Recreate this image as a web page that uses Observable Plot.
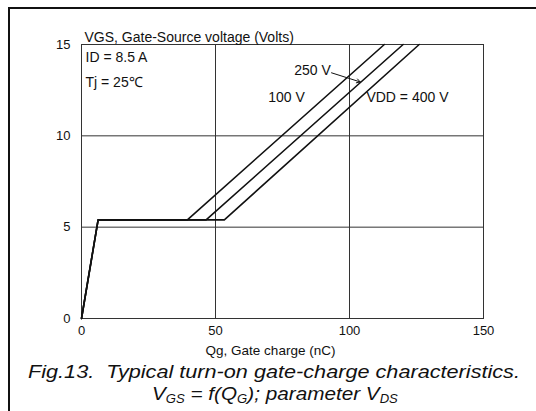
<!DOCTYPE html>
<html>
<head>
<meta charset="utf-8">
<script src="https://cdn.jsdelivr.net/npm/d3@7"></script>
<script src="https://cdn.jsdelivr.net/npm/@observablehq/plot@0.6"></script>
<style>
  html, body { margin: 0; padding: 0; background: #fff; }
  #wrap { position: relative; width: 536px; height: 411px; overflow: hidden; font-family: "Liberation Sans", Arial, sans-serif; }
  #border { position: absolute; left: 8px; top: 7px; right: -4px; bottom: -4px; border-top: 2px solid #111; border-left: 2px solid #111; }
  #chart { position: absolute; left: 0; top: 0; }
  .cap { position: absolute; font-style: italic; font-size: 19px; white-space: pre; color: #111; line-height: 20px; transform-origin: 0 50%; }
  .cap sub { font-size: 12px; vertical-align: -3px; }
</style>
</head>
<body>
<div id="wrap">
  <div id="border"></div>
  <div id="chart"></div>
  <div class="cap" id="cap1" style="left:28px; top:362px; transform: scaleX(1.14);"></div>
  <div class="cap" id="cap2" style="left:152px; top:384px; transform: scaleX(1.09);"></div>
</div>
<script>
// ---- data ----
const xTicks = [0, 50, 100, 150];
const yTicks = [0, 5, 10, 15];
const xGrid = [50, 100];
const yGrid = [5, 10];

const seriesNames = ["100 V", "250 V", "400 V"];
const qg100 = [0, 6.2, 39.5, 113];
const vgs100 = [0, 5.4, 5.4, 15];
const qg250 = [0, 6.2, 46.5, 120];
const vgs250 = [0, 5.4, 5.4, 15];
const qg400 = [0, 6.2, 53.3, 126];
const vgs400 = [0, 5.4, 5.4, 15];

const yTitle = "VGS, Gate-Source voltage (Volts)";
const xTitle = "Qg, Gate charge (nC)";
const condLine1 = "ID = 8.5 A";
const condLine2 = "Tj = 25\u2103";
const endLabels = [
  {text: "250 V", x: 93, y: 13.6},
  {text: "100 V", x: 83.3, y: 12.1}
];
const startLabels = [
  {text: "VDD = 400 V", x: 106.3, y: 12.1}
];
const arrowSpec = [{x1: 93.3, y1: 13.45, x2: 104, y2: 12.95}];
const caption1 = "Fig.13.  Typical turn-on gate-charge characteristics.";

// ---- build table ----
const allQ = [qg100, qg250, qg400];
const allV = [vgs100, vgs250, vgs400];
const rows = [];
seriesNames.forEach((s, i) => allQ[i].forEach((q, j) => rows.push({series: s, q, v: allV[i][j]})));

const ink = "#111";
const plot = Plot.plot({
  width: 536,
  height: 360,
  marginTop: 44,
  marginBottom: 42,
  marginLeft: 81,
  marginRight: 53,
  style: {fontFamily: "'Liberation Sans', Arial, sans-serif", fontSize: "13px", color: ink, background: "transparent", overflow: "visible"},
  x: {domain: [0, 150]},
  y: {domain: [0, 15]},
  marks: [
    Plot.ruleX(xGrid, {stroke: "#333", strokeWidth: 1}),
    Plot.ruleY(yGrid, {stroke: "#333", strokeWidth: 1}),
    Plot.frame({stroke: "#333", strokeWidth: 1}),
    Plot.axisX({ticks: xTicks, tickSize: 0, tickPadding: 7, label: null, fontSize: 13}),
    Plot.axisY({ticks: yTicks, tickSize: 0, tickPadding: 11, label: null, fontSize: 13}),
    Plot.line(rows, {x: "q", y: "v", z: "series", stroke: ink, strokeWidth: 1.6, curve: "linear"}),
    Plot.text([yTitle], {text: d => d, frameAnchor: "top-left", textAnchor: "start", dx: 3, dy: -12, fontSize: 14}),
    Plot.text([xTitle], {text: d => d, frameAnchor: "bottom", dx: -12, dy: 36, fontSize: 13.5}),
    Plot.text([condLine1], {text: d => d, frameAnchor: "top-left", textAnchor: "start", dx: 4, dy: 8, fontSize: 14}),
    Plot.text([condLine2], {text: d => d, frameAnchor: "top-left", textAnchor: "start", dx: 4, dy: 33, fontSize: 14}),
    Plot.text(endLabels, {x: "x", y: "y", text: "text", textAnchor: "end", fontSize: 14}),
    Plot.text(startLabels, {x: "x", y: "y", text: "text", textAnchor: "start", fontSize: 14}),
    Plot.arrow(arrowSpec, {x1: "x1", y1: "y1", x2: "x2", y2: "y2", stroke: ink, strokeWidth: 1, headLength: 6, bend: 0})
  ]
});
document.getElementById("chart").appendChild(plot);
document.getElementById("cap1").textContent = caption1;
document.getElementById("cap2").innerHTML = "V<sub>GS</sub> = f(Q<sub>G</sub>); parameter V<sub>DS</sub>";
</script>
</body>
</html>
